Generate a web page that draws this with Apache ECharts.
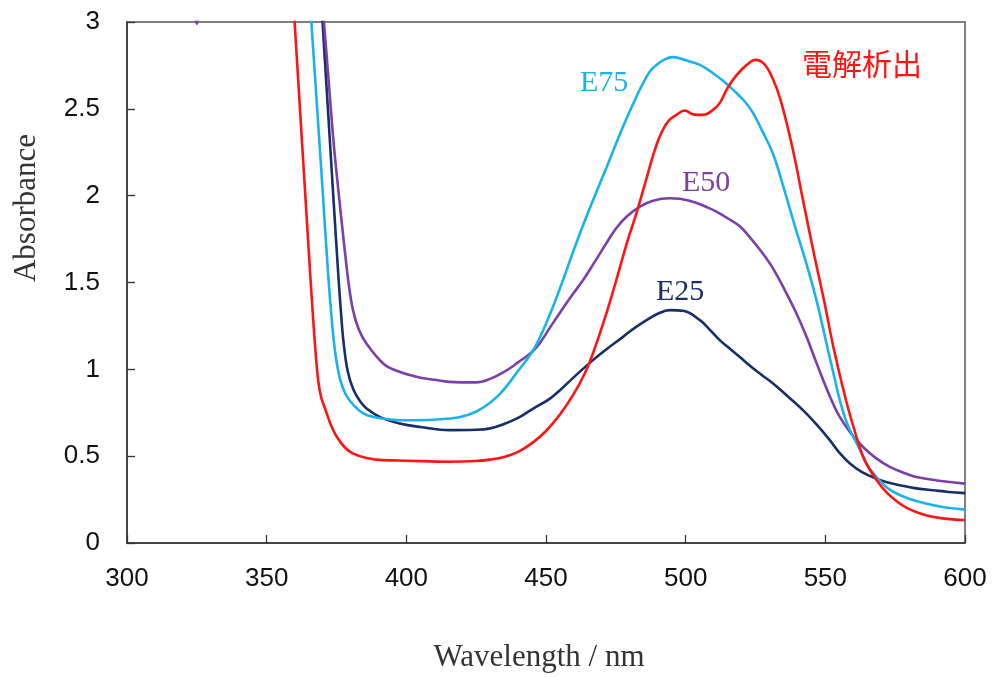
<!DOCTYPE html>
<html>
<head>
<meta charset="utf-8">
<script src="https://cdn.jsdelivr.net/npm/echarts@6/dist/echarts.min.js"></script>
<style>
  html, body { margin: 0; padding: 0; background: #fff; }
  #chart { width: 993px; height: 677px; }
</style>
</head>
<body>
<div id="chart"></div>
<script>
// Absorption spectra: wavelength (nm) vs absorbance
const xTicks = [300, 350, 400, 450, 500, 550, 600];
const yTicks = [0, 0.5, 1, 1.5, 2, 2.5, 3];

// 電解析出 (electrodeposited film)
const redWl = [359, 360, 362, 364, 365.5, 366.6, 367.6, 368.5, 369.5, 371, 373, 375, 378, 381, 385.8, 391.7, 400, 415.5, 425, 430, 435, 440, 445, 450, 455, 460, 464, 467, 471, 475.2, 479, 482.4, 486, 488.5, 490.7, 493.7, 496.7, 499.7, 502.7, 506.2, 509.8, 512.2, 515, 518, 522, 525, 528, 531, 534, 538.4, 542, 546, 549.5, 553, 557.4, 561, 564, 568, 572, 576, 580, 586, 592, 600];
const redAbs = [3.25, 3.0, 2.48, 1.96, 1.57, 1.3, 1.08, 0.93, 0.84, 0.77, 0.68, 0.615, 0.55, 0.515, 0.49, 0.477, 0.474, 0.468, 0.472, 0.48, 0.495, 0.525, 0.575, 0.645, 0.74, 0.86, 0.98, 1.1, 1.29, 1.515, 1.73, 1.9, 2.1, 2.24, 2.34, 2.427, 2.465, 2.49, 2.468, 2.465, 2.494, 2.533, 2.62, 2.69, 2.755, 2.782, 2.76, 2.68, 2.55, 2.263, 1.975, 1.66, 1.4, 1.12, 0.822, 0.62, 0.48, 0.37, 0.29, 0.235, 0.195, 0.16, 0.142, 0.132];

// E75
const e75Wl = [365.5, 366, 368, 370, 372, 373.5, 374.5, 375.5, 376.5, 378, 380, 383, 386, 392, 397.6, 408, 415.5, 420, 426, 433, 440, 445, 448, 452, 456, 460, 464, 467.5, 471.6, 477.6, 482.4, 485, 487.2, 489, 492.5, 495.5, 500.3, 505.1, 509.8, 513.5, 517, 521, 524, 527.5, 531.3, 535, 539, 543, 546.8, 550.4, 553, 555.2, 558, 561.7, 565, 568.3, 572, 575.5, 580, 586, 592, 600];
const e75Abs = [3.12, 3.0, 2.52, 2.04, 1.55, 1.25, 1.1, 1.0, 0.93, 0.865, 0.815, 0.765, 0.736, 0.715, 0.707, 0.708, 0.717, 0.728, 0.765, 0.85, 0.99, 1.1, 1.19, 1.34, 1.51, 1.69, 1.86, 2.0, 2.16, 2.398, 2.571, 2.655, 2.715, 2.745, 2.785, 2.798, 2.778, 2.753, 2.705, 2.66, 2.609, 2.545, 2.48, 2.37, 2.24, 2.05, 1.83, 1.62, 1.4, 1.15, 0.97, 0.822, 0.68, 0.56, 0.45, 0.38, 0.32, 0.285, 0.255, 0.227, 0.207, 0.192];

// E50
const e50Wl = [324, 325, 326, 345, 369.5, 370.5, 372, 374, 376, 377.3, 378, 379.3, 380.9, 383, 385.7, 391.7, 396, 403.6, 410, 415.5, 425, 430, 435, 440, 445, 447.7, 451, 454.8, 459, 463.3, 467.5, 471.6, 475, 478.8, 483.6, 488.3, 494.3, 501.4, 508.6, 511, 515, 519.3, 523, 527, 531.3, 536, 540, 543.2, 547, 551.6, 555, 559, 563.5, 568, 573.1, 578, 582.6, 590, 600];
const e50Abs = [3.08, 2.99, 3.08, null, 3.2, 3.0, 2.7, 2.3, 1.98, 1.783, 1.68, 1.5, 1.341, 1.23, 1.149, 1.034, 0.995, 0.957, 0.94, 0.928, 0.925, 0.945, 0.985, 1.04, 1.1, 1.149, 1.23, 1.322, 1.42, 1.514, 1.62, 1.726, 1.81, 1.879, 1.937, 1.971, 1.985, 1.971, 1.927, 1.908, 1.87, 1.825, 1.76, 1.68, 1.58, 1.44, 1.31, 1.19, 1.03, 0.845, 0.73, 0.635, 0.553, 0.49, 0.438, 0.405, 0.38, 0.36, 0.342];

// E25
const e25Wl = [369.5, 370, 372, 374, 375.5, 376.5, 377.5, 379, 381, 383.5, 386, 391, 397.6, 405, 415.5, 425, 430, 435, 440, 445, 451.3, 455, 460, 466.8, 472, 477.6, 481, 486, 490, 494.3, 499.1, 505.1, 508.5, 512.2, 515, 519.3, 523, 527, 531.3, 536.5, 542, 547, 551.6, 555, 558.8, 563, 568.3, 572, 576.7, 582, 588.6, 594, 600];
const e25Abs = [3.13, 3.0, 2.48, 1.96, 1.58, 1.35, 1.16, 0.99, 0.885, 0.815, 0.772, 0.722, 0.688, 0.668, 0.65, 0.652, 0.66, 0.685, 0.72, 0.77, 0.83, 0.88, 0.955, 1.053, 1.12, 1.187, 1.23, 1.283, 1.32, 1.341, 1.337, 1.283, 1.23, 1.168, 1.13, 1.072, 1.02, 0.97, 0.919, 0.845, 0.765, 0.68, 0.592, 0.52, 0.458, 0.41, 0.37, 0.35, 0.333, 0.316, 0.304, 0.294, 0.287];

const pairs = (xs, ys) => xs.map((x, i) => [x, ys[i] === null ? '-' : ys[i]]);

const serif = "'Liberation Serif', 'DejaVu Serif', serif";
const sans = "'Liberation Sans', Arial, sans-serif";

const seriesDefs = [
  { name: 'E25', color: '#172f66', data: pairs(e25Wl, e25Abs) },
  { name: 'E50', color: '#7a40a8', data: pairs(e50Wl, e50Abs) },
  { name: 'E75', color: '#1ab2ea', data: pairs(e75Wl, e75Abs) },
  { name: '電解析出', color: '#ff1414', data: pairs(redWl, redAbs) }
];

const chart = echarts.init(document.getElementById('chart'));
chart.setOption({
  animation: false,
  backgroundColor: '#fff',
  grid: {
    left: 127, right: 28, top: 22, bottom: 134,
    show: true, borderColor: '#555', borderWidth: 1.5, backgroundColor: 'transparent'
  },
  xAxis: {
    type: 'value',
    min: xTicks[0], max: xTicks[xTicks.length - 1], interval: 50,
    axisLine: { show: true, lineStyle: { color: '#333', width: 1.5 } },
    axisTick: { show: true, inside: true, length: 8, lineStyle: { color: '#333', width: 1.3 } },
    axisLabel: { fontFamily: sans, fontSize: 26, color: '#111', margin: 23 },
    splitLine: { show: false }
  },
  yAxis: {
    type: 'value',
    min: yTicks[0], max: yTicks[yTicks.length - 1], interval: 0.5,
    axisLine: { show: true, lineStyle: { color: '#333', width: 1.5 } },
    axisTick: { show: true, inside: true, length: 8, lineStyle: { color: '#333', width: 1.3 } },
    axisLabel: { fontFamily: sans, fontSize: 26, color: '#111', margin: 27 },
    splitLine: { show: false }
  },
  series: seriesDefs.map(s => ({
    name: s.name,
    type: 'line',
    data: s.data,
    smooth: 0.4,
    showSymbol: false,
    connectNulls: false,
    clip: true,
    lineStyle: { color: s.color, width: 2.6 },
    itemStyle: { color: s.color },
    z: 3
  })),
  graphic: [
    { type: 'text', x: 27, y: 208, rotation: Math.PI / 2,
      style: { text: 'Absorbance', fontFamily: serif, fontSize: 31, fill: '#333', align: 'center', verticalAlign: 'middle' } },
    { type: 'text', x: 539, y: 658,
      style: { text: 'Wavelength / nm', fontFamily: serif, fontSize: 31, fill: '#333', align: 'center', verticalAlign: 'middle' } },
    { type: 'text', left: 580, top: 68, style: { text: 'E75', fontFamily: serif, fontSize: 30, fill: '#1ab2ea' } },
    { type: 'text', left: 682, top: 168, style: { text: 'E50', fontFamily: serif, fontSize: 30, fill: '#7a40a8' } },
    { type: 'text', left: 656, top: 277, style: { text: 'E25', fontFamily: serif, fontSize: 30, fill: '#172f66' } },
    { type: 'text', left: 802, top: 49, style: { text: '電解析出', fontFamily: "'Noto Sans CJK JP', sans-serif", fontSize: 30, fill: '#ff1414' } }
  ]
});
</script>
</body>
</html>
